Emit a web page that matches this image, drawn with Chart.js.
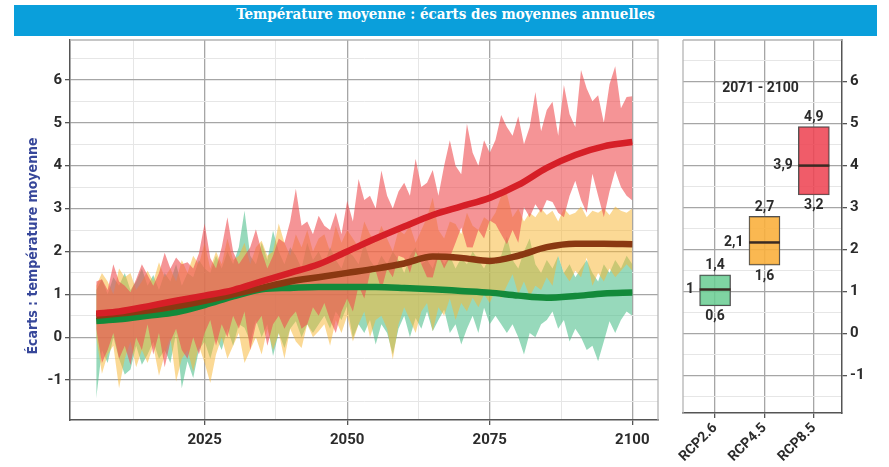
<!DOCTYPE html>
<html>
<head>
<meta charset="utf-8">
<script src="https://cdn.jsdelivr.net/npm/chart.js"></script>
<style>
  html, body { margin: 0; padding: 0; background: #fff; }
  body { width: 889px; height: 467px; position: relative; overflow: hidden; }
  #banner {
    position: absolute; left: 14px; top: 5px; width: 863px; height: 31px;
    background: #0a9fdb; color: #fff; text-align: center; line-height: 31px;
    font: bold 15px 'DejaVu Serif Condensed', 'DejaVu Serif', serif;
  }
  #mainChart { position: absolute; left: 0; top: 0; }
  #sideChart { position: absolute; left: 665px; top: 0; }
</style>
</head>
<body>
<div id="banner">Température moyenne : écarts des moyennes annuelles</div>
<canvas id="mainChart" width="665" height="467"></canvas>
<canvas id="sideChart" width="224" height="467"></canvas>
<script>
// ---- data ----
const years = Array.from({ length: 95 }, (_, i) => 2006 + i);

// annual spread of the models, per scenario
const rcp85Hi = [
  1.3, 1.35, 1.1, 1.7, 1.3, 1.2, 1.05, 1.35, 1.7, 1.45,
  1.2, 1.5, 1.97, 1.6, 1.86, 1.7, 1.75, 1.6, 1.95, 2.65,
  1.85, 1.6, 2.1, 2.8, 2.0, 1.7, 1.9, 2.1, 2.52, 2.0,
  1.6, 1.9, 2.3, 2.2, 2.7, 3.46, 2.6, 2.7, 2.4, 2.83,
  2.6, 2.5, 2.91, 2.4, 3.18, 2.7, 3.69, 3.2, 3.3, 3.0,
  3.89, 3.3, 3.0, 3.4, 3.6, 3.3, 4.16, 3.5, 3.6, 3.9,
  3.3, 4.0, 4.59, 4.0, 3.8, 4.98, 4.3, 4.0, 4.59, 4.3,
  4.6, 5.18, 4.9, 4.7, 5.15, 4.5, 4.9, 5.72, 4.8, 5.3,
  5.49, 4.7, 5.88, 5.2, 4.9, 6.23, 5.8, 5.5, 5.64, 5.0,
  5.9, 6.32, 5.34, 5.6, 5.62
];
const rcp85Lo = [
  0.2, -0.6, -0.3, 0.1, -0.5, -0.2, -0.65, 0.0, -0.3, 0.3,
  -0.4, 0.1, -0.7, -0.1, 0.2, -0.3, -0.5, 0.0, -0.4, 0.1,
  0.4, -0.2, 0.3, 0.0, 0.5, 0.2, 0.6, -0.3, 0.3, 0.5,
  -0.2, 0.3, 0.5, 0.2, 0.45, 0.6, 0.2, 0.3, 0.7, 0.5,
  0.8, 0.4, 0.1, 0.6, 0.9, 0.6, 1.2, 0.9, 1.5, 1.55,
  1.1, 1.6, 1.4, 1.9, 1.85, 1.5, 2.0, 1.7, 1.4, 1.39,
  1.9, 1.6, 1.86, 2.2, 2.56, 2.1, 2.09, 2.5, 2.3, 2.72,
  2.64, 2.4, 2.17, 2.5, 2.2, 3.03, 2.8, 3.1, 2.9, 3.2,
  3.15, 2.9, 2.8, 3.3, 3.65, 3.2, 2.9, 3.81, 3.3, 2.8,
  3.4, 3.89, 3.5, 3.3, 3.19
];
const rcp45Hi = [
  1.2, 1.5, 1.3, 1.0, 1.6, 1.4, 1.5, 1.1, 1.3, 1.55,
  1.3, 1.75, 1.4, 1.6, 1.3, 1.8, 1.5, 1.9, 1.7, 2.2,
  1.6, 2.0, 1.7, 2.3, 1.8, 1.9, 2.2, 1.7, 2.1, 2.25,
  1.9, 2.0, 2.65, 2.2, 1.9, 2.4, 2.1, 2.5, 2.0, 2.3,
  2.4, 2.0, 2.6, 2.2, 2.5, 2.3, 2.1, 2.7, 2.4, 2.2,
  2.6, 2.3, 2.0, 2.5, 2.4, 2.6, 2.2, 2.5, 2.8, 3.26,
  2.5, 2.3, 2.7, 2.64, 2.4, 2.9, 2.6, 2.5, 2.8, 2.7,
  2.9, 3.3, 3.35, 2.8, 3.0, 2.7, 2.9, 2.8, 3.0, 2.85,
  2.95, 2.7, 3.0, 2.85, 2.9, 3.05, 2.8, 2.95, 2.9, 3.0,
  2.85, 3.05, 2.95, 2.9, 3.0
];
const rcp45Lo = [
  0.0, -0.85, -0.4, -0.2, -1.19, -0.5, -0.1, -0.7, -0.3, -0.6,
  -0.2, -0.9, -0.4, 0.0, -1.03, -0.5, -0.3, -0.8, -0.2, -0.6,
  -1.07, -0.4, 0.0, -0.5, -0.2, 0.1, -0.6, -0.3, 0.0, -0.4,
  0.2, -0.3, 0.1, -0.5, 0.2, -0.1, -0.25, 0.3, 0.0, 0.14,
  0.3, -0.2, 0.4, 0.1, 0.5, -0.1, 0.3, 0.6, 0.0, 0.4,
  0.5, 0.2, -0.52, 0.3, 0.7, 0.4, 0.1, 0.6, 0.8, 0.14,
  0.7, 0.5, 0.9, 0.4, 0.8, 0.6, 0.92, 0.7, 1.0, 0.8,
  1.1, 0.9, 1.2, 1.47, 1.0, 1.3, 0.95, 1.2, 1.1, 1.4,
  1.2, 1.9, 1.5, 1.3, 1.55, 1.4, 1.86, 1.2, 1.5, 1.3,
  1.6, 1.4, 1.55, 1.7, 1.55
];
const rcp26Hi = [
  1.1, 1.35, 1.0, 1.4, 1.2, 1.5, 1.1, 1.3, 1.6, 1.2,
  1.45, 1.1, 1.5, 1.3, 1.7, 1.2, 1.5, 1.4, 1.8, 1.6,
  1.5, 1.9, 1.6, 2.0, 1.7, 2.1, 2.95, 1.9, 1.7, 2.2,
  1.8, 2.48, 2.0, 1.7, 2.1, 1.9, 1.6, 2.2, 1.8, 2.0,
  1.7, 2.1, 1.8, 1.6, 2.0, 1.9, 1.7, 2.2, 1.8, 1.6,
  1.9, 1.7, 2.0, 1.8, 1.5, 1.9, 2.1, 1.7, 1.8, 1.6,
  2.0, 1.7, 1.9, 1.6, 1.85, 1.7, 2.0, 1.8, 1.6, 1.9,
  1.7, 1.9, 2.35, 1.8, 1.6, 2.0, 2.3, 1.7, 1.5, 1.8,
  1.6, 1.9, 1.5, 1.7, 1.4, 1.6, 1.8, 1.5, 1.3, 1.7,
  1.5, 1.8, 1.6, 1.9, 1.7
];
const rcp26Lo = [
  -1.42, -0.3, -0.6, 0.0, -0.5, -0.87, -0.75, -0.2, -0.64, -0.4,
  -0.1, -0.5, -0.3, -0.6, 0.1, -1.19, -0.56, -0.95, -0.3, -0.1,
  -0.5, 0.0, -0.3, 0.2, -0.2, 0.3, 0.22, -0.1, 0.4, 0.0,
  0.3, -0.44, 0.1, -0.25, 0.2, 0.37, 0.0, 0.3, 0.1, 0.3,
  0.5, 0.2, 0.6, 0.4, 0.73, -0.02, 0.3, 0.1, 0.4, -0.17,
  0.3, 0.1, -0.4, 0.2, 0.5, 0.0, 0.45, 0.2, 0.6, 0.14,
  0.4, 0.64, 0.1, 0.3, -0.17, 0.2, 0.5, 0.1, 0.69, 0.3,
  0.5, 0.3, 0.1, 0.3, 0.0, -0.4, 0.1, 0.0, 0.3, 0.4,
  0.6, 0.2, 0.4, -0.1, 0.2, 0.0, -0.3, -0.2, -0.56, -0.1,
  0.37, 0.1, 0.4, 0.6, 0.5
];

// smoothed multi-model means
const meanYears = [2006, 2010, 2015, 2020, 2025, 2030, 2035, 2040, 2045, 2050,
                   2055, 2060, 2065, 2070, 2075, 2080, 2085, 2090, 2095, 2100];
const rcp85Mean = [0.55, 0.6, 0.72, 0.85, 0.97, 1.1, 1.3, 1.5, 1.7, 2.0,
                   2.3, 2.58, 2.85, 3.05, 3.25, 3.55, 3.95, 4.25, 4.45, 4.55];
const rcp45Mean = [0.5, 0.55, 0.62, 0.72, 0.85, 1.0, 1.15, 1.3, 1.4, 1.5,
                   1.6, 1.72, 1.88, 1.85, 1.78, 1.9, 2.1, 2.18, 2.18, 2.17];
const rcp26Mean = [0.38, 0.42, 0.5, 0.58, 0.75, 0.95, 1.12, 1.15, 1.17, 1.17,
                   1.17, 1.15, 1.12, 1.08, 1.04, 0.97, 0.92, 0.96, 1.02, 1.04];

// 2071-2100 boxes
const scenarios = ['RCP2.6', 'RCP4.5', 'RCP8.5'];
const boxLow = [0.65, 1.62, 3.29];
const boxMedian = [1.04, 2.16, 3.99];
const boxHigh = [1.39, 2.78, 4.92];
const lowText = ['0,6', '1,6', '3,2'];
const medianText = ['1', '2,1', '3,9'];
const highText = ['1,4', '2,7', '4,9'];

// ticks
const xTicks = [2012.5, 2025, 2037.5, 2050, 2062.5, 2075, 2087.5, 2100];
const yTicks = [-1.5, -1, -0.5, 0, 0.5, 1, 1.5, 2, 2.5, 3, 3.5, 4, 4.5, 5, 5.5, 6, 6.5];

// ---- styles ----
const MAJOR = '#a6a6a6';
const MINOR = '#e6e6e6';
const AXIS = '#555';
const tickFont = { family: "Roboto, 'Liberation Sans', sans-serif", size: 15, weight: 'bold' };
const tickColor = '#2b2b2b';

const pts = (xs, ys) => xs.map((x, i) => ({ x: x, y: ys[i] }));

const meanLine = (ys, color) => ({
  data: pts(meanYears, ys),
  borderColor: color,
  borderWidth: 6.5,
  pointRadius: 0,
  fill: false,
  tension: 0.4,
  cubicInterpolationMode: 'monotone'
});
const bandEdge = (ys) => ({
  data: pts(years, ys),
  borderWidth: 0,
  pointRadius: 0,
  fill: false
});
const bandTop = (ys, color) => ({
  data: pts(years, ys),
  borderWidth: 0,
  pointRadius: 0,
  backgroundColor: color,
  fill: '-1'
});

const isInt = (v) => Math.abs(v - Math.round(v)) < 1e-6;
const gridOpts = (isMajor) => ({
  offset: false,
  color: (c) => (c.tick && isMajor(c.tick.value) ? MAJOR : MINOR),
  lineWidth: (c) => (c.tick && isMajor(c.tick.value) ? 1.3 : 1),
  tickLength: 5,
  tickColor: (c) => (c.tick && isMajor(c.tick.value) ? AXIS : 'rgba(0,0,0,0)')
});

// grey frame on the sides that have no axis line
const framePlugin = {
  id: 'frame',
  afterDraw(chart, args, opts) {
    const { ctx, chartArea: a } = chart;
    ctx.save();
    ctx.strokeStyle = '#b4b4b4';
    ctx.lineWidth = 1.3;
    ctx.beginPath();
    ctx.moveTo(a.left, a.top);
    ctx.lineTo(a.right, a.top);
    if (opts.side === 'right') ctx.lineTo(a.right, a.bottom);
    if (opts.side === 'left') { ctx.moveTo(a.left, a.top); ctx.lineTo(a.left, a.bottom); }
    ctx.stroke();
    ctx.restore();
  }
};

// y axis title of the main panel
const yTitlePlugin = {
  id: 'yTitle',
  afterDraw(chart) {
    const { ctx, chartArea: a } = chart;
    ctx.save();
    ctx.translate(a.left - 37, (a.top + a.bottom) / 2 + 16);
    ctx.rotate(-Math.PI / 2);
    ctx.font = "bold 14px 'DejaVu Sans Condensed', 'Roboto Condensed', Roboto, sans-serif";
    ctx.fillStyle = '#37479a';
    ctx.textAlign = 'center';
    ctx.textBaseline = 'middle';
    ctx.fillText('Écarts : température moyenne', 0, 0);
    ctx.restore();
  }
};

// ---- main chart ----
new Chart(document.getElementById('mainChart'), {
  type: 'line',
  data: {
    datasets: [
      meanLine(rcp85Mean, '#d61f27'),
      meanLine(rcp45Mean, '#8a3812'),
      meanLine(rcp26Mean, '#138a3a'),
      bandEdge(rcp85Lo),
      bandTop(rcp85Hi, 'rgba(238, 76, 80, 0.6)'),
      bandEdge(rcp45Lo),
      bandTop(rcp45Hi, 'rgba(248, 182, 52, 0.52)'),
      bandEdge(rcp26Lo),
      bandTop(rcp26Hi, 'rgba(82, 192, 142, 0.6)')
    ]
  },
  options: {
    responsive: false,
    animation: false,
    layout: { padding: { top: 40, right: 7, left: 0, bottom: 0 } },
    plugins: { legend: { display: false }, tooltip: { enabled: false }, frame: { side: 'right' } },
    scales: {
      x: {
        type: 'linear',
        min: 2001.4,
        max: 2104.5,
        afterBuildTicks: (a) => { a.ticks = xTicks.map((v) => ({ value: v })); },
        afterFit: (a) => { a.height = 47; },
        grid: gridOpts((v) => v % 25 === 0),
        border: { color: AXIS, width: 1.5 },
        ticks: {
          autoSkip: false, maxRotation: 0, padding: 6,
          font: tickFont, color: tickColor,
          callback: (v) => (v % 25 === 0 ? String(v) : '')
        }
      },
      y: {
        min: -1.93,
        max: 6.93,
        afterBuildTicks: (a) => { a.ticks = yTicks.map((v) => ({ value: v })); },
        afterFit: (a) => { a.width = 70; },
        grid: gridOpts(isInt),
        border: { color: AXIS, width: 1.5 },
        ticks: {
          autoSkip: false, padding: 3,
          font: tickFont, color: tickColor,
          callback: (v) => (isInt(v) ? String(v) : '')
        }
      }
    }
  },
  plugins: [framePlugin, yTitlePlugin]
});

// ---- side panel: box summary ----
const boxLabelPlugin = {
  id: 'boxLabels',
  afterDatasetsDraw(chart) {
    const { ctx, chartArea: a, scales: { x, y } } = chart;
    ctx.save();
    ctx.fillStyle = '#2b2b2b';
    ctx.font = "bold 14px Roboto, 'Liberation Sans', sans-serif";
    scenarios.forEach((s, i) => {
      const px = x.getPixelForValue(i + 1);
      ctx.textAlign = 'center';
      ctx.textBaseline = 'bottom';
      ctx.fillText(highText[i], px, y.getPixelForValue(boxHigh[i]) - 2);
      ctx.textBaseline = 'top';
      ctx.fillText(lowText[i], px, y.getPixelForValue(boxLow[i]) + 4);
      ctx.textAlign = 'right';
      ctx.textBaseline = 'middle';
      ctx.fillText(medianText[i], px - 21, y.getPixelForValue(boxMedian[i]));
    });
    ctx.textAlign = 'center';
    ctx.textBaseline = 'middle';
    ctx.fillText('2071 - 2100', (a.left + a.right) / 2 - 2, a.top + 48);
    ctx.restore();
  }
};

new Chart(document.getElementById('sideChart'), {
  type: 'bar',
  data: {
    datasets: [
      {
        type: 'scatter',
        data: pts([1, 2, 3], boxMedian),
        pointStyle: 'line',
        pointRadius: 15.5,
        pointBorderWidth: 2.5,
        pointBorderColor: '#3a2a22',
        order: 0
      },
      {
        data: scenarios.map((s, i) => ({ x: i + 1, y: [boxLow[i], boxHigh[i]] })),
        backgroundColor: ['rgba(104, 204, 146, 0.85)', 'rgba(250, 176, 62, 0.9)', 'rgba(238, 70, 84, 0.88)'],
        borderColor: '#505050',
        borderWidth: 1.2,
        borderSkipped: false,
        barThickness: 31,
        order: 1
      }
    ]
  },
  options: {
    responsive: false,
    animation: false,
    layout: { padding: { top: 40, left: 13, right: 0, bottom: 0 } },
    plugins: { legend: { display: false }, tooltip: { enabled: false }, frame: { side: 'left' } },
    scales: {
      x: {
        type: 'linear',
        offset: false,
        min: 0.35,
        max: 3.57,
        afterBuildTicks: (a) => { a.ticks = [1, 2, 3].map((v) => ({ value: v })); },
        afterFit: (a) => { a.height = 54; },
        grid: gridOpts(() => true),
        border: { color: AXIS, width: 1.5 },
        ticks: {
          autoSkip: false, minRotation: 45, maxRotation: 45, padding: 2,
          font: { family: "Roboto, 'Liberation Sans', sans-serif", size: 14, weight: 'bold' },
          color: tickColor,
          callback: (v) => scenarios[v - 1] || ''
        }
      },
      y: {
        position: 'right',
        min: -1.9,
        max: 6.98,
        afterBuildTicks: (a) => { a.ticks = yTicks.map((v) => ({ value: v })); },
        afterFit: (a) => { a.width = 47; },
        grid: gridOpts(isInt),
        border: { color: AXIS, width: 1.5 },
        ticks: {
          autoSkip: false, padding: 3,
          font: tickFont, color: tickColor,
          callback: (v) => (isInt(v) ? String(v) : '')
        }
      }
    }
  },
  plugins: [framePlugin, boxLabelPlugin]
});
</script>
</body>
</html>
